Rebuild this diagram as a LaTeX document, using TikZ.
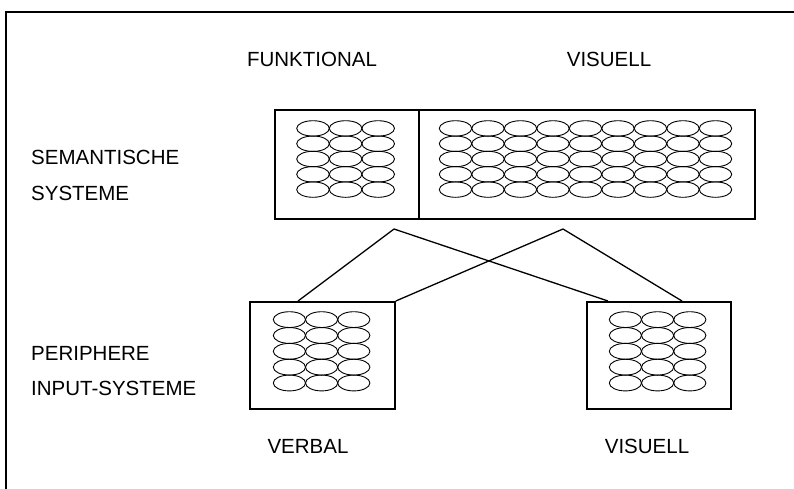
\documentclass[tikz,border=0pt]{standalone}
\usepackage{fontspec}
\setmainfont{Liberation Sans}
\begin{document}
\begin{tikzpicture}[x=1pt,y=-1pt,
  frame/.style={line width=1.6pt},
  sysbox/.style={draw,line width=1.8pt,inner sep=0pt,anchor=north west,
                 rectangle,minimum height=#1},
  cell/.style={line width=0.9pt},
  lbl/.style={font=\fontsize{20.5}{24}\selectfont,inner sep=0pt},
  link/.style={line width=1.3pt}]
\useasboundingbox (0,0) rectangle (794,488);

% open outer frame (left and top edges only)
\coordinate (fbot) at (6,496);
\coordinate (fcorner) at (6,12);
\coordinate (fright) at (802,12);
\draw[frame] (fbot) -- (fcorner) -- (fright);

% semantic systems
\node[sysbox=109pt,minimum width=144pt] (funk) at (274,109) {};
\node[sysbox=109pt,minimum width=336pt] (vissem) at (418,109) {};
% peripheral input systems
\node[sysbox=107pt,minimum width=145pt] (verbal) at (249,301) {};
\node[sysbox=107pt,minimum width=144pt] (visin) at (586,301) {};

% grids of units inside the boxes
\foreach \i in {0,...,2}
  \foreach \j in {0,...,4}
    \draw[cell] (313+\i*32.6,128.4+\j*15.3) ellipse [x radius=16.3pt, y radius=7.7pt];
\foreach \i in {0,...,8}
  \foreach \j in {0,...,4}
    \draw[cell] (455.5+\i*32.5,128.4+\j*15.3) ellipse [x radius=16.2pt, y radius=7.7pt];
\foreach \i in {0,...,2}
  \foreach \j in {0,...,4}
    \draw[cell] (289.4+\i*32.2,319.6+\j*15.85) ellipse [x radius=16.1pt, y radius=7.9pt];
\foreach \i in {0,...,2}
  \foreach \j in {0,...,4}
    \draw[cell] (625.4+\i*32.2,319.6+\j*15.85) ellipse [x radius=16.1pt, y radius=7.9pt];

% crossing connections
\coordinate (apexF) at (394,229);
\coordinate (apexV) at (563,229);
\coordinate (verbalIn) at (298,301);
\coordinate (visinA) at (608,301);
\coordinate (visinB) at (682,301);
\draw[link] (verbalIn) -- (apexF) -- (visinA);
\draw[link] (verbal.north east) -- (apexV) -- (visinB);

% labels
\node[lbl,anchor=base] (tF) at (312,66.7) {FUNKTIONAL};
\node[lbl,anchor=base] (tV) at (609,66.7) {VISUELL};
\node[lbl,anchor=base west] (tS1) at (31,164) {SEMANTISCHE};
\node[lbl,anchor=base west] (tS2) at (31,200) {SYSTEME};
\node[lbl,anchor=base west] (tP1) at (31,360) {PERIPHERE};
\node[lbl,anchor=base west] (tP2) at (31,395) {INPUT-SYSTEME};
\node[lbl,anchor=base] (tB1) at (308,453) {VERBAL};
\node[lbl,anchor=base] (tB2) at (647,453) {VISUELL};
\end{tikzpicture}
\end{document}
